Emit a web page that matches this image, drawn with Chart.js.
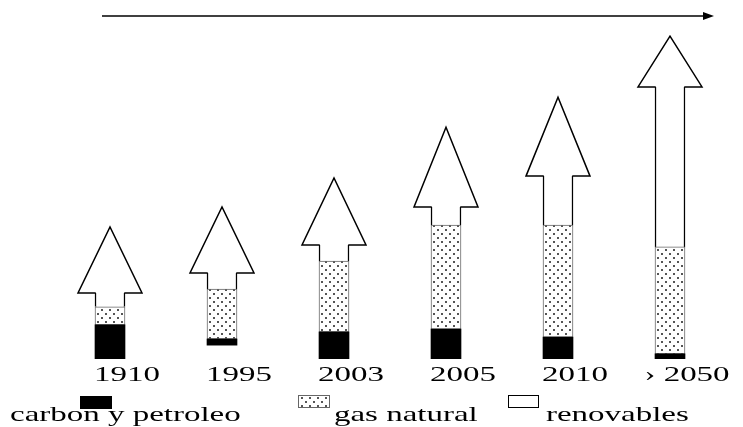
<!DOCTYPE html>
<html>
<head>
<meta charset="utf-8">
<script src="https://cdn.jsdelivr.net/npm/chart.js@4.4.0/dist/chart.umd.min.js"></script>
<style>
  html, body { margin: 0; padding: 0; background: #fff; }
  #wrap { position: relative; width: 743px; height: 427px; }
</style>
</head>
<body>
<div id="wrap"><canvas id="energyChart"></canvas></div>
<script>
// ---- Data (heights in arbitrary units) ----
const periods     = ['1910', '1995', '2003', '2005', '2010', '› 2050'];
const baseLift    = [0, 4.3, 0, 0, 0, 0];
const carbon      = [10.6, 1.9, 8.4, 9.3, 6.8, 1.6];
const gas         = [5.6, 15.5, 22.0, 32.3, 34.8, 33.2];
const renewable   = [4.3, 5.0, 5.0, 5.6, 15.2, 49.7];
const headLen     = [20.5, 20.5, 20.8, 24.8, 24.5, 15.8];
const seriesNames = ['carbon y petroleo', 'gas natural', 'renovables'];

// each segment floats on top of the one below it
const carbonRange = carbon.map((v, i) => [baseLift[i], baseLift[i] + v]);
const gasRange    = gas.map((v, i) => [carbonRange[i][1], carbonRange[i][1] + v]);
const renewRange  = renewable.map((v, i) => [gasRange[i][1], gasRange[i][1] + v]);

const FONT = '"Liberation Serif", "Times New Roman", serif';
const STRETCH = 1.57;     // the source text is drawn wide
const HEAD_HALF = 32;

function dotPattern() {
  const c = document.createElement('canvas');
  c.width = 8; c.height = 8;
  const g = c.getContext('2d');
  g.fillStyle = '#fff';
  g.fillRect(0, 0, 8, 8);
  g.fillStyle = '#555';
  g.fillRect(1, 1, 2, 2);
  g.fillRect(5, 5, 2, 2);
  return g.createPattern(c, 'repeat');
}
const dots = dotPattern();

function wideText(ctx, text, x, y, align) {
  ctx.save();
  ctx.translate(x, y);
  ctx.scale(STRETCH, 1);
  ctx.textAlign = align;
  ctx.textBaseline = 'alphabetic';
  ctx.fillText(text, 0, 0);
  ctx.restore();
}

// arrow heads on top of each stack
const arrowHeads = {
  id: 'arrowHeads',
  afterDatasetsDraw(chart) {
    const ctx = chart.ctx;
    const yScale = chart.scales.y;
    const meta = chart.getDatasetMeta(2);
    meta.data.forEach((bar, i) => {
      const top = bar.y;
      const half = bar.width / 2 - 0.75;
      const tipY = yScale.getPixelForValue(renewRange[i][1] + headLen[i]);
      ctx.save();
      ctx.beginPath();
      ctx.moveTo(bar.x - half, top);
      ctx.lineTo(bar.x - HEAD_HALF, top);
      ctx.lineTo(bar.x, tipY);
      ctx.lineTo(bar.x + HEAD_HALF, top);
      ctx.lineTo(bar.x + half, top);
      ctx.fillStyle = '#fff';
      ctx.fill();
      ctx.strokeStyle = '#000';
      ctx.lineWidth = 1.5;
      ctx.stroke();
      ctx.restore();
    });
  }
};

// period labels, legend and the time arrow
const decorations = {
  id: 'decorations',
  afterDraw(chart) {
    const ctx = chart.ctx;
    const xScale = chart.scales.x;
    ctx.save();
    ctx.fillStyle = '#000';
    ctx.font = '21px ' + FONT;

    periods.forEach((p, i) => {
      wideText(ctx, p, xScale.getPixelForValue(i) + 17, 381, 'center');
    });

    // legend
    wideText(ctx, seriesNames[0], 10, 421, 'left');
    wideText(ctx, seriesNames[1], 334, 421, 'left');
    wideText(ctx, seriesNames[2], 546, 421, 'left');

    ctx.fillStyle = '#000';
    ctx.fillRect(80, 396, 32, 13);

    ctx.fillStyle = dots;
    ctx.fillRect(298, 395, 32, 13);
    ctx.strokeStyle = '#666';
    ctx.lineWidth = 1;
    ctx.strokeRect(298.5, 395.5, 31, 12);

    ctx.fillStyle = '#fff';
    ctx.fillRect(508, 395, 31, 13);
    ctx.strokeStyle = '#000';
    ctx.strokeRect(508.5, 395.5, 30, 12);

    // time arrow across the top
    ctx.beginPath();
    ctx.moveTo(102, 16);
    ctx.lineTo(706, 16);
    ctx.lineWidth = 1.5;
    ctx.stroke();
    ctx.beginPath();
    ctx.moveTo(703, 12);
    ctx.lineTo(714, 16);
    ctx.lineTo(703, 20);
    ctx.closePath();
    ctx.fillStyle = '#000';
    ctx.fill();
    ctx.restore();
  }
};

new Chart(document.getElementById('energyChart'), {
  type: 'bar',
  data: {
    labels: periods,
    datasets: [
      {
        label: seriesNames[0],
        data: carbonRange,
        backgroundColor: '#000',
        borderWidth: 0
      },
      {
        label: seriesNames[1],
        data: gasRange,
        backgroundColor: dots,
        borderColor: '#666',
        borderWidth: 1,
        borderSkipped: false
      },
      {
        label: seriesNames[2],
        data: renewRange,
        backgroundColor: '#fff',
        borderColor: '#000',
        borderWidth: { left: 1.5, right: 1.5, top: 0, bottom: 0 },
        borderSkipped: false
      }
    ]
  },
  options: {
    responsive: true,
    maintainAspectRatio: false,
    animation: false,
    grouped: false,
    barThickness: 30,
    layout: { padding: { top: 37, bottom: 68, left: 54, right: 17 } },
    plugins: {
      legend: { display: false },
      tooltip: { enabled: false }
    },
    scales: {
      x: { display: false },
      y: { display: false, min: 0, max: 100 }
    }
  },
  plugins: [arrowHeads, decorations]
});
</script>
</body>
</html>
